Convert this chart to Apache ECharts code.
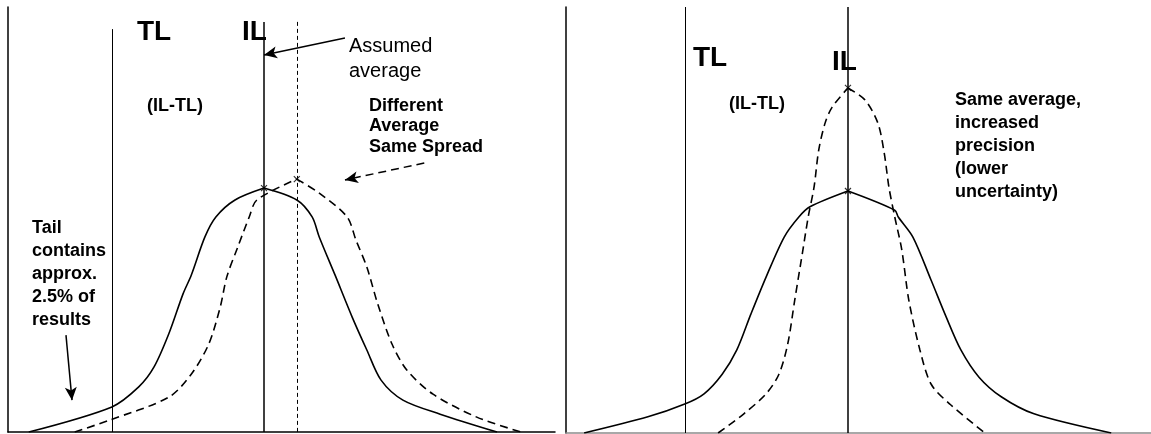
<!DOCTYPE html>
<html>
<head>
<meta charset="utf-8">
<script src="https://cdn.jsdelivr.net/npm/echarts@6/dist/echarts.min.js"></script>
<style>
  html, body { margin: 0; padding: 0; background: #fff; }
  #chart { width: 1151px; height: 434px; }
</style>
</head>
<body>
<div id="chart"></div>
<script>
// x: result scale (0-100), y: relative frequency (0-100)
const leftSolidCurve = [
  [3.8, 0], [19.0, 5.9], [23.9, 10.6], [26.7, 15.3], [29.4, 23.1], [32.0, 32.5],
  [33.5, 36.9], [36.0, 45.9], [38.0, 50.6], [41.5, 54.6], [46.8, 57.4],
  [52.8, 54.6], [55.6, 50.6], [56.9, 45.9], [59.8, 36.9], [62.9, 27.1],
  [65.6, 19.3], [68.2, 12.2], [72.2, 7.5], [79.0, 4.2], [89.4, 0]
]
const leftShiftedCurve = [
  [12.2, 0], [18.6, 2.8], [29.4, 8.2], [33.5, 13.6], [36.7, 20.7], [38.8, 29.4],
  [40.0, 36.5], [42.0, 43.5], [44.1, 50.6], [45.5, 54.6], [52.8, 59.5],
  [56.9, 56.2], [62.0, 50.6], [63.6, 45.2], [65.6, 38.8], [67.6, 30.1],
  [70.2, 20.7], [72.9, 14.6], [77.7, 8.9], [85.7, 3.5], [93.8, 0]
]
const rightSolidCurve = [
  [3.1, 0], [14.0, 3.8], [20.3, 6.8], [23.6, 9.2], [26.7, 13.8], [29.2, 19.5],
  [31.6, 27.9], [34.2, 36.6], [37.3, 46.0], [39.8, 50.7], [41.7, 53.1], [48.2, 56.8],
  [56.2, 52.3], [56.8, 50.7], [59.3, 46.0], [62.4, 35.9], [65.0, 27.2],
  [67.5, 19.5], [70.6, 13.1], [74.4, 8.5], [80.0, 4.5], [93.2, 0]
]
const rightNarrowCurve = [
  [26.0, 0], [30.4, 4.5], [34.2, 9.2], [36.4, 13.8], [37.9, 20.9], [39.1, 31.2],
  [40.5, 43.0], [41.4, 50.7], [42.4, 57.7], [43.2, 66.4], [44.3, 72.8], [45.5, 76.5],
  [48.2, 81.0], [51.1, 78.2], [53.3, 72.8], [54.4, 65.7], [55.2, 57.7], [56.2, 50.7],
  [57.4, 43.0], [58.6, 31.2], [60.5, 19.5], [62.4, 11.5], [65.6, 6.8], [71.6, 0]
]

// vertical limit lines: [x, top]
const leftTL = [19.0, 94.8]
const leftIL = [46.8, 96.5]
const leftShiftedAvg = [52.8, 96.5]
const rightTL = [20.3, 100]
const rightIL = [48.2, 100]

// arrows: [from, to]
const assumedArrow = [[61.6, 92.7], [46.8, 88.7]]
const spreadArrow = [[76.1, 63.3], [61.6, 59.3]]
const tailArrow = [[10.6, 22.8], [11.7, 7.5]]

const FONT = '"Liberation Sans", Arial, sans-serif'

function peakIndex(d) {
  let k = 0
  d.forEach((p, i) => { if (p[1] > d[k][1]) k = i })
  return k
}

function curveSeries(data, grid, dashed) {
  const k = peakIndex(data)
  const style = { color: '#000', width: 1.6, type: dashed ? [8, 5] : 'solid' }
  return [data.slice(0, k + 1), data.slice(k)].map(part => ({
    type: 'line',
    xAxisIndex: grid,
    yAxisIndex: grid,
    data: part,
    smooth: 0.3,
    symbol: 'none',
    lineStyle: style,
    silent: true
  }))
}

function vline(v, width, dashed) {
  return [
    { coord: [v[0], v[1]], lineStyle: { width: width, type: dashed ? [4, 3] : 'solid', color: '#000' } },
    { coord: [v[0], 0] }
  ]
}

function arrow(a, dashed) {
  return [
    { coord: a[0], symbol: 'none', lineStyle: { width: 1.5, type: dashed ? [8, 5] : 'solid', color: '#000' } },
    { coord: a[1], symbol: 'arrow', symbolSize: [9, 13] }
  ]
}

function markerSeries(points, grid) {
  return {
    type: 'scatter',
    xAxisIndex: grid,
    yAxisIndex: grid,
    data: points,
    symbol: 'path://M0,0L10,10M10,0L0,10',
    symbolSize: 6,
    itemStyle: { color: 'none', borderColor: '#000', borderWidth: 1.2 },
    silent: true
  }
}

function guideSeries(grid, lines) {
  return {
    type: 'line',
    xAxisIndex: grid,
    yAxisIndex: grid,
    data: [],
    markLine: {
      silent: true,
      symbol: ['none', 'none'],
      label: { show: false },
      lineStyle: { color: '#000', width: 1, type: 'solid' },
      data: lines
    }
  }
}

function text(x, y, str, font, lh) {
  return {
    type: 'text',
    x: x,
    y: y,
    silent: true,
    style: {
      text: str,
      font: font,
      fill: '#000',
      lineHeight: lh,
      textVerticalAlign: lh ? 'top' : 'middle'
    }
  }
}

const chart = echarts.init(document.getElementById('chart'), null, { renderer: 'canvas' })

const axisBase = (color) => ({
  type: 'value',
  min: 0,
  max: 100,
  axisLine: { show: true, onZero: false, lineStyle: { color: color, width: 1.5 } },
  axisTick: { show: false },
  axisLabel: { show: false },
  splitLine: { show: false }
})

const B18 = 'bold 18px ' + FONT
const B28 = 'bold 28px ' + FONT

chart.setOption({
  animation: false,
  backgroundColor: '#fff',
  grid: [
    { left: 8, top: 7, width: 547, height: 425 },
    { left: 566, top: 7, width: 585, height: 426 }
  ],
  xAxis: [
    { ...axisBase('#000'), gridIndex: 0 },
    { ...axisBase('#8c8c8c'), gridIndex: 1 }
  ],
  yAxis: [
    { ...axisBase('#000'), gridIndex: 0 },
    { ...axisBase('#000'), gridIndex: 1 }
  ],
  series: [
    ...curveSeries(leftSolidCurve, 0, false),
    ...curveSeries(leftShiftedCurve, 0, true),
    ...curveSeries(rightSolidCurve, 1, false),
    ...curveSeries(rightNarrowCurve, 1, true),
    markerSeries([leftSolidCurve[peakIndex(leftSolidCurve)], leftShiftedCurve[peakIndex(leftShiftedCurve)]], 0),
    markerSeries([rightSolidCurve[peakIndex(rightSolidCurve)], rightNarrowCurve[peakIndex(rightNarrowCurve)]], 1),
    guideSeries(0, [
      vline(leftTL, 1, false),
      vline(leftIL, 1.5, false),
      vline(leftShiftedAvg, 1, true),
      arrow(assumedArrow, false),
      arrow(spreadArrow, true),
      arrow(tailArrow, false)
    ]),
    guideSeries(1, [
      vline(rightTL, 1, false),
      vline(rightIL, 1.5, false)
    ])
  ],
  graphic: [
    text(137, 32, 'TL', B28),
    text(242, 32, 'IL', B28),
    text(147, 106, '(IL-TL)', B18),
    text(349, 33.5, 'Assumed\naverage', '20px ' + FONT, 25),
    text(369, 95.5, 'Different\nAverage\nSame Spread', B18, 20.5),
    text(32, 217, 'Tail\ncontains\napprox.\n2.5% of\nresults', B18, 23),
    text(693, 58, 'TL', B28),
    text(832, 62, 'IL', B28),
    text(729, 104, '(IL-TL)', B18),
    text(955, 89, 'Same average,\nincreased\nprecision\n(lower\nuncertainty)', B18, 23)
  ]
})
</script>
</body>
</html>
